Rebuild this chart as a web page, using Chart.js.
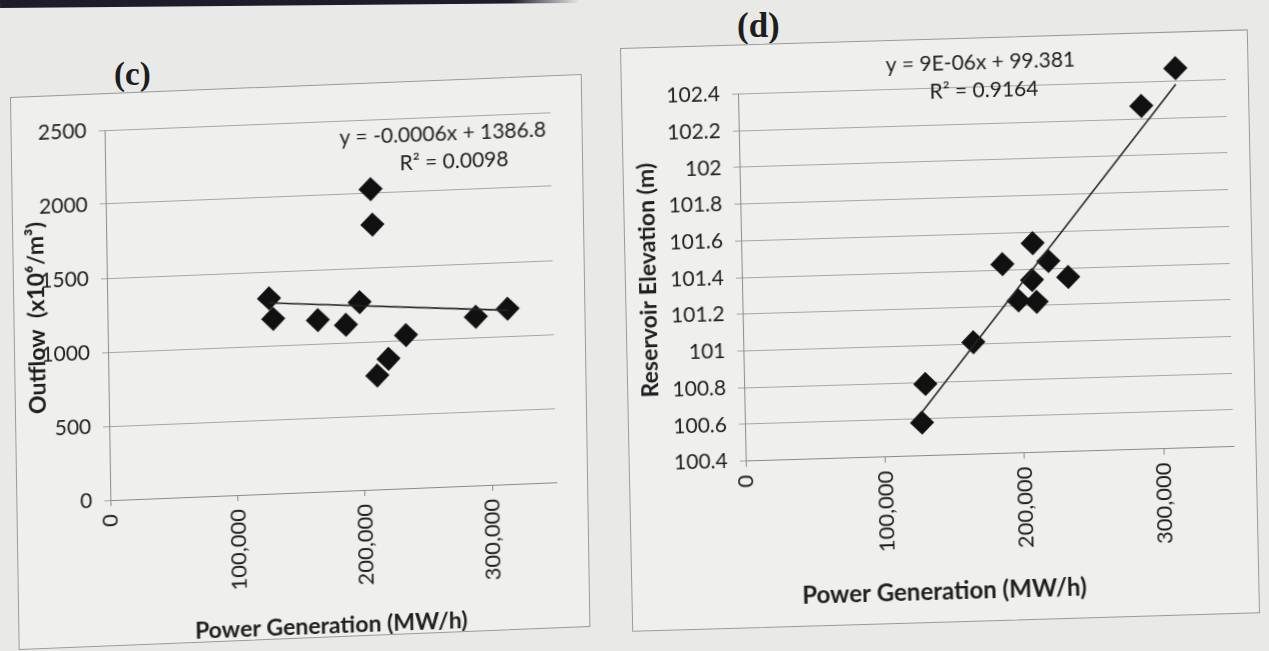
<!DOCTYPE html>
<html>
<head>
<meta charset="utf-8">
<script src="https://cdn.jsdelivr.net/npm/chart.js@4.4.0/dist/chart.umd.min.js"></script>
<style>
body { margin: 0; width: 1269px; height: 651px; overflow: hidden; background: #e9e9e7; position: relative; }
.panel { position: absolute; box-sizing: border-box; border: 1px solid #9a9a9a; background: #efefed; transform-origin: 0 0; }
.panel canvas { display: block; }
.tag { position: absolute; font: bold 33px "Liberation Serif", serif; color: #1d1d1d; line-height: 1; }
.strip { position: absolute; left: 0; top: 0; width: 580px; height: 8px;
  background: linear-gradient(to right, #1c1c2a 88%, rgba(28,28,42,0)); transform: rotate(-0.5deg); transform-origin: left top; }
</style>
</head>
<body>
<div class="strip"></div>
<div class="tag" style="left:114px;top:58px">(c)</div>
<div class="tag" style="left:737px;top:8px;font-size:35px">(d)</div>
<div class="panel" style="left:10px;top:97px;width:572px;height:553px;transform:rotate(-0.9deg) skewY(-1.4deg)">
  <canvas id="chartC" width="570" height="551"></canvas>
</div>
<div class="panel" style="left:620px;top:48px;width:628px;height:584px;transform:rotate(-1.2deg) skewY(-0.5deg)">
  <canvas id="chartD" width="626" height="582"></canvas>
</div>
<script>
// power generation (MW/h), shared by both panels
const powerGen = [127000, 130000, 165000, 187000, 198000, 208000, 209000, 211000, 220000, 234000, 289000, 314000];

// (c) outflow
const outflow = [1320, 1180, 1160, 1120, 1270, 2030, 1790, 770, 880, 1035, 1140, 1185];
const eqC = ['y = -0.0006x + 1386.8', 'R\u00b2 = 0.0098'];

// (d) reservoir elevation (m)
const elevation = [100.58, 100.79, 101.01, 101.43, 101.23, 101.34, 101.54, 101.22, 101.44, 101.35, 102.27, 102.47];
const eqD = ['y = 9E-06x + 99.381', 'R\u00b2 = 0.9164'];

const xTicks = [0, 100000, 200000, 300000];
const xTitle = 'Power Generation (MW/h)';

const FONT = 'Lato';
const INK = '#1e1e1e';

function linFit(xs, ys) {
  let n = xs.length, sx = 0, sy = 0, sxx = 0, sxy = 0;
  for (let i = 0; i < n; i++) {
    sx += xs[i]; sy += ys[i];
    sxx += xs[i] * xs[i]; sxy += xs[i] * ys[i];
  }
  let m = (n * sxy - sx * sy) / (n * sxx - sx * sx);
  let b = (sy - m * sx) / n;
  let x0 = Math.min(...xs), x1 = Math.max(...xs);
  return [{x: x0, y: m * x0 + b}, {x: x1, y: m * x1 + b}];
}

// free text (trendline equation, x title) placed relative to the plot area
const notes = {
  id: 'notes',
  afterDatasetsDraw(chart, args, opts) {
    const ctx = chart.ctx, a = chart.chartArea;
    ctx.save();
    ctx.fillStyle = INK;
    ctx.textAlign = 'center';
    ctx.textBaseline = 'middle';
    opts.items.forEach(it => {
      ctx.font = it.font;
      ctx.fillText(it.text, a.left + it.dx, a.top + it.dy);
    });
    ctx.restore();
  }
};

function makeChart(id, xs, ys, cfg) {
  return new Chart(document.getElementById(id), {
    type: 'scatter',
    data: {
      datasets: [
        {
          type: 'line',
          data: linFit(xs, ys),
          borderColor: '#262626',
          borderWidth: 1.6,
          pointRadius: 0,
          fill: false,
          clip: false
        },
        {
          data: xs.map((x, i) => ({x: x, y: ys[i]})),
          pointStyle: 'rectRot',
          pointRadius: 10,
          borderWidth: 3,
          backgroundColor: '#111',
          borderColor: '#111',
          clip: false
        }
      ]
    },
    options: {
      responsive: false,
      animation: false,
      layout: { padding: { top: cfg.top, right: cfg.right, left: 0, bottom: 0 } },
      plugins: {
        legend: { display: false },
        tooltip: { enabled: false },
        notes: { items: cfg.notes }
      },
      scales: {
        x: {
          type: 'linear',
          min: 0,
          max: 350000,
          afterBuildTicks: s => { s.ticks = xTicks.map(v => ({value: v})); },
          afterFit: s => { s.height = cfg.xh; },
          grid: { drawOnChartArea: false, drawTicks: true, tickLength: 6, color: '#8a8a8a' },
          border: { color: '#8a8a8a', width: 1 },
          ticks: {
            minRotation: 90, maxRotation: 90, padding: 8,
            color: INK, font: { family: FONT, size: 22 },
            callback: v => v.toLocaleString('en-US')
          }
        },
        y: {
          min: cfg.ymin,
          max: cfg.ymax,
          afterFit: s => { s.width = cfg.yw; },
          grid: { color: '#a6a6a6', lineWidth: 1, tickLength: 6 },
          border: { color: '#8a8a8a', width: 1 },
          ticks: {
            stepSize: cfg.ystep, padding: 12,
            color: INK, font: { family: FONT, size: 21 },
            callback: cfg.yfmt
          },
          title: {
            display: true, text: cfg.ytitle, color: INK,
            font: { family: FONT, size: 23, weight: 'bold' },
            padding: { top: cfg.ytpad, bottom: 0 }
          }
        }
      }
    },
    plugins: [notes]
  });
}

makeChart('chartC', powerGen, outflow, {
  top: 36, right: 31, xh: 145, yw: 93,
  ymin: 0, ymax: 2500, ystep: 500,
  yfmt: v => String(v),
  ytitle: 'Outflow  (x10\u2076/m\u00b3)', ytpad: 9,
  notes: [
    { text: eqC[0], font: '21px ' + FONT, dx: 338, dy: 17 },
    { text: eqC[1], font: '21px ' + FONT, dx: 349, dy: 45 },
    { text: xTitle, font: 'bold 23px ' + FONT, dx: 219, dy: 505 }
  ]
});

makeChart('chartD', powerGen, elevation, {
  top: 48.5, right: 22, xh: 166.5, yw: 116,
  ymin: 100.4, ymax: 102.4, ystep: 0.2,
  yfmt: v => String(Number(v.toFixed(1))),
  ytitle: 'Reservoir Elevation (m)', ytpad: 9,
  notes: [
    { text: eqD[0], font: '21px ' + FONT, dx: 243, dy: -24 },
    { text: eqD[1], font: '21px ' + FONT, dx: 246, dy: 4 },
    { text: xTitle, font: 'bold 24px ' + FONT, dx: 196, dy: 504 }
  ]
});
</script>
</body>
</html>
